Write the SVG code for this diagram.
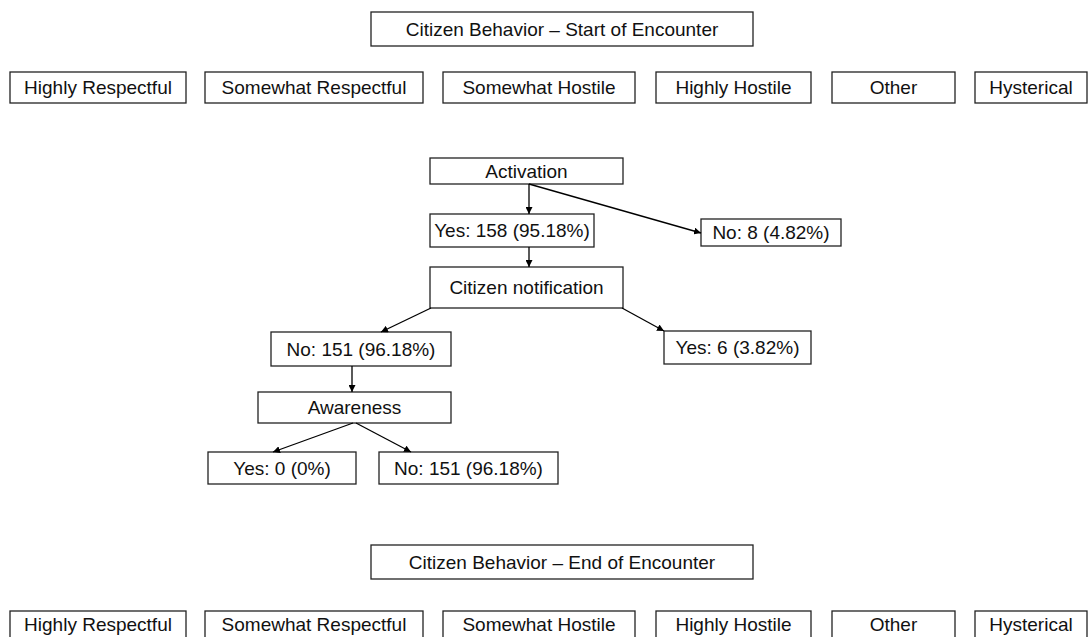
<svg xmlns="http://www.w3.org/2000/svg" width="1089" height="637" viewBox="0 0 1089 637">
<style>
rect.b{fill:#fff;stroke:#222;stroke-width:1.3}
text{font-family:"Liberation Sans",Arial,sans-serif;font-size:19px;fill:#111;text-anchor:middle}
.c line{stroke:#000;stroke-width:1.3}
</style>
<defs>
<marker id="ah" viewBox="0 0 10 10" refX="10" refY="5" markerWidth="7" markerHeight="7" markerUnits="userSpaceOnUse" orient="auto">
<path d="M0,0 L10,5 L0,10 z" fill="#000"/>
</marker>
</defs>
<rect width="1089" height="637" fill="#fff"/>
<g id="start-title"><rect class="b" x="371" y="12" width="382" height="34"/><text x="562" y="35.5">Citizen Behavior – Start of Encounter</text></g>
<g id="start-hr"><rect class="b" x="10" y="72" width="176" height="31"/><text x="98" y="94">Highly Respectful</text></g>
<g id="start-sr"><rect class="b" x="205" y="72" width="218" height="31"/><text x="314" y="94">Somewhat Respectful</text></g>
<g id="start-sh"><rect class="b" x="443" y="72" width="192" height="31"/><text x="539" y="94">Somewhat Hostile</text></g>
<g id="start-hh"><rect class="b" x="656" y="72" width="155" height="31"/><text x="733.5" y="94">Highly Hostile</text></g>
<g id="start-other"><rect class="b" x="832" y="72" width="123" height="31"/><text x="893.5" y="94">Other</text></g>
<g id="start-hyst"><rect class="b" x="975" y="72" width="112" height="31"/><text x="1031" y="94">Hysterical</text></g>

<g id="activation"><rect class="b" x="430" y="158" width="193" height="26"/><text x="526.5" y="178">Activation</text></g>
<g id="act-yes"><rect class="b" x="430" y="214" width="164" height="33"/><text x="512" y="237">Yes: 158 (95.18%)</text></g>
<g id="act-no"><rect class="b" x="701" y="219" width="140" height="27"/><text x="771" y="239">No: 8 (4.82%)</text></g>
<g id="notification"><rect class="b" x="430" y="267" width="193" height="41"/><text x="526.5" y="294">Citizen notification</text></g>
<g id="notif-no"><rect class="b" x="271" y="332" width="180" height="34"/><text x="361" y="356">No: 151 (96.18%)</text></g>
<g id="notif-yes"><rect class="b" x="664" y="331" width="147" height="33"/><text x="737.5" y="354">Yes: 6 (3.82%)</text></g>
<g id="awareness"><rect class="b" x="258" y="392" width="193" height="31"/><text x="354.5" y="414">Awareness</text></g>
<g id="aware-yes"><rect class="b" x="208" y="452" width="148" height="32"/><text x="282" y="475">Yes: 0 (0%)</text></g>
<g id="aware-no"><rect class="b" x="379" y="452" width="179" height="32"/><text x="468.5" y="475">No: 151 (96.18%)</text></g>

<g id="end-title"><rect class="b" x="371" y="545" width="382" height="34"/><text x="562" y="568.5">Citizen Behavior – End of Encounter</text></g>
<g id="end-hr"><rect class="b" x="10" y="611" width="176" height="40"/><text x="98" y="631">Highly Respectful</text></g>
<g id="end-sr"><rect class="b" x="205" y="611" width="218" height="40"/><text x="314" y="631">Somewhat Respectful</text></g>
<g id="end-sh"><rect class="b" x="443" y="611" width="192" height="40"/><text x="539" y="631">Somewhat Hostile</text></g>
<g id="end-hh"><rect class="b" x="656" y="611" width="155" height="40"/><text x="733.5" y="631">Highly Hostile</text></g>
<g id="end-other"><rect class="b" x="832" y="611" width="123" height="40"/><text x="893.5" y="631">Other</text></g>
<g id="end-hyst"><rect class="b" x="975" y="611" width="112" height="40"/><text x="1031" y="631">Hysterical</text></g>

<g id="connectors" class="c">
<line x1="529" y1="184" x2="529" y2="214" marker-end="url(#ah)"/>
<line x1="529" y1="184" x2="701" y2="233" marker-end="url(#ah)"/>
<line x1="529" y1="247" x2="529" y2="267" marker-end="url(#ah)"/>
<line x1="431" y1="308" x2="381" y2="332" marker-end="url(#ah)"/>
<line x1="622" y1="308" x2="664" y2="331" marker-end="url(#ah)"/>
<line x1="352" y1="366" x2="352" y2="392" marker-end="url(#ah)"/>
<line x1="353" y1="423" x2="273" y2="452" marker-end="url(#ah)"/>
<line x1="356" y1="423" x2="411" y2="452" marker-end="url(#ah)"/>
</g>
</svg>
